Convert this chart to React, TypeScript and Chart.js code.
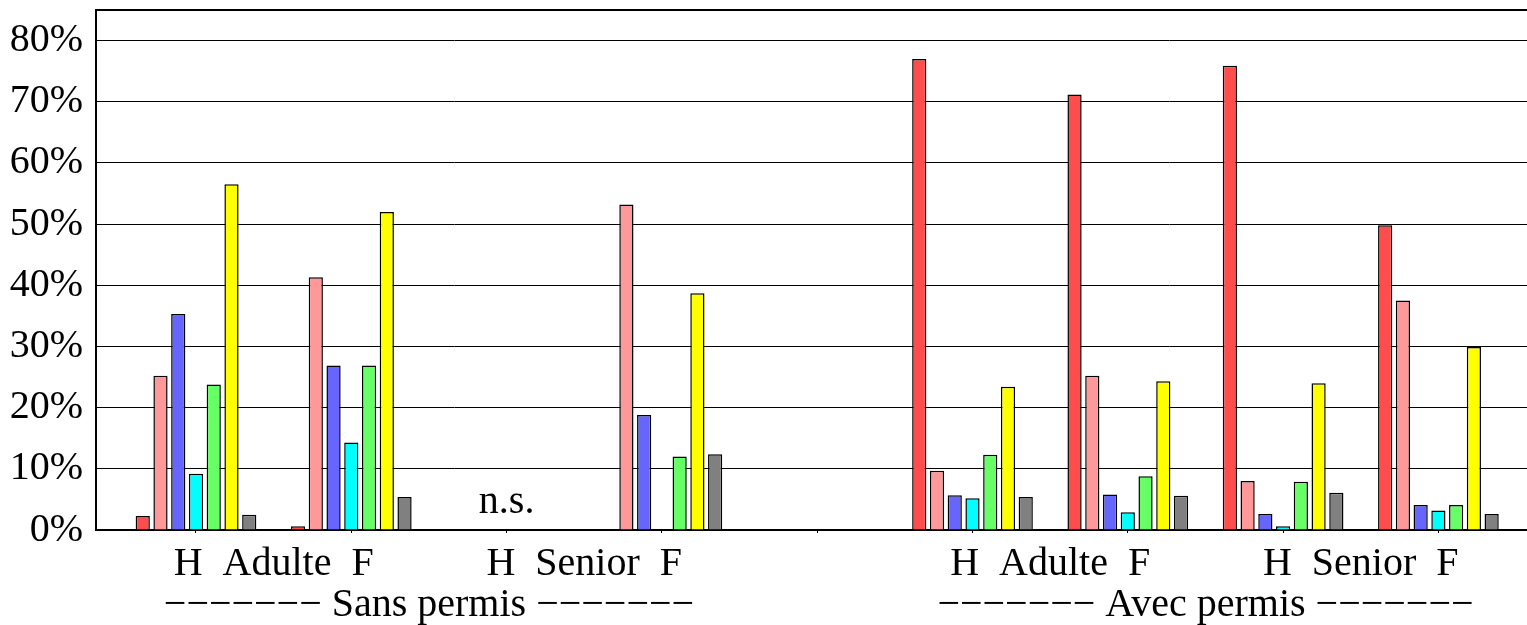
import React, { useEffect, useRef } from 'react';
import { Chart, registerables } from 'chart.js';

Chart.register(...registerables);

// Group positions on the x axis (5 is the empty gap between the two sections)
const groupPositions = [1, 2, 3, 4, 5, 6, 7, 8, 9];

// Series (7 bars per group)
const seriesNames = ['Série 1', 'Série 2', 'Série 3', 'Série 4', 'Série 5', 'Série 6', 'Série 7'];
const seriesColors = ['#ff4d4d', '#ff9999', '#6666ff', '#00ffff', '#66ff66', '#ffff00', '#808080'];

const serie1 = [2.3, 0.6, 0, 0, 0, 77.0, 71.2, 75.9, 49.8];
const serie2 = [25.2, 41.3, 0, 53.2, 0, 9.7, 25.2, 8.0, 37.5];
const serie3 = [35.3, 26.9, 0, 18.8, 0, 5.7, 5.8, 2.6, 4.1];
const serie4 = [9.2, 14.3, 0, 0, 0, 5.2, 2.9, 0.6, 3.2];
const serie5 = [23.8, 26.9, 0, 12.0, 0, 12.3, 8.8, 7.9, 4.1];
const serie6 = [56.5, 52.0, 0, 38.7, 0, 23.4, 24.3, 24.0, 29.9];
const serie7 = [2.5, 5.4, 0, 12.4, 0, 5.4, 5.6, 6.1, 2.6];
const seriesValues = [serie1, serie2, serie3, serie4, serie5, serie6, serie7];

// Y axis
const yMin = 0;
const yMax = 85;
const yStep = 10;

// X axis range
const xMin = 0.3561;
const xMax = 9.5705;

// Labels under the axis
const subLabelPositions = [1.5, 3.5, 6.5, 8.5];
const subLabels = ['H  Adulte  F', 'H  Senior  F', 'H  Adulte  F', 'H  Senior  F'];
const sectionPositions = [2.5, 7.5];
const sectionLabels = ['Sans permis', 'Avec permis'];
const dashRun = '−−−−−−−';

// "n.s." annotation
const nsText = 'n.s.';
const nsPosition = 3;
const nsValue = 2.8;

const FONT = '"Liberation Serif", "Times New Roman", serif';

export default function App() {
  const canvasRef = useRef<HTMLCanvasElement | null>(null);

  useEffect(() => {
    const canvas = canvasRef.current;
    if (!canvas) return;
    Chart.defaults.font.family = FONT;
    Chart.defaults.color = '#000';

    const textPlugin = {
      id: 'textLabels',
      afterDraw(chart: any) {
        const { ctx, scales, chartArea } = chart;
        const x = scales.x;
        ctx.save();
        ctx.font = `40px ${FONT}`;
        ctx.fillStyle = '#000';
        ctx.textAlign = 'center';
        ctx.textBaseline = 'alphabetic';
        // n.s.
        ctx.fillText(nsText, x.getPixelForValue(nsPosition), scales.y.getPixelForValue(nsValue));
        // sub labels (first line under the axis)
        const line1 = chartArea.bottom + 45;
        const line2 = chartArea.bottom + 86;
        subLabelPositions.forEach((p, i) => {
          ctx.fillText(subLabels[i], x.getPixelForValue(p), line1);
        });
        sectionPositions.forEach((p, i) => {
          ctx.fillText(`${dashRun} ${sectionLabels[i]} ${dashRun}`, x.getPixelForValue(p), line2);
        });
        ctx.restore();
      },
    };

    const chart = new Chart(canvas, {
      type: 'bar',
      data: {
        datasets: seriesValues.map((vals, i) => ({
          label: seriesNames[i],
          data: vals.map((v, j) => ({ x: groupPositions[j], y: v })),
          backgroundColor: seriesColors[i],
          borderColor: '#000',
          borderWidth: 1.5,
          barPercentage: 0.8,
          categoryPercentage: 0.8,
        })),
      },
      options: {
        animation: false,
        responsive: false,
        devicePixelRatio: 1,
        layout: { padding: { top: 10, left: 0, right: 0, bottom: 0 } },
        plugins: {
          legend: { display: false },
          tooltip: { enabled: false },
        },
        scales: {
          x: {
            type: 'linear',
            position: 'bottom',
            min: xMin,
            max: xMax,
            offset: false,
            ticks: { stepSize: 1, includeBounds: false, display: false },
            grid: { offset: false, drawOnChartArea: false, drawTicks: true, tickLength: 3, color: '#000', tickColor: '#000' },
            border: { display: true, color: '#000', width: 2 },
            afterFit: (s: any) => {
              s.height = 95;
              s.paddingLeft = 0;
              s.paddingRight = 0;
            },
          },
          xTop: {
            type: 'linear',
            position: 'top',
            min: xMin,
            max: xMax,
            offset: false,
            ticks: { display: false },
            grid: { display: false, drawTicks: false },
            border: { display: true, color: '#000', width: 2 },
            afterFit: (s: any) => {
              s.height = 0;
              s.paddingLeft = 0;
              s.paddingRight = 0;
            },
          },
          y: {
            type: 'linear',
            min: yMin,
            max: yMax,
            ticks: {
              stepSize: yStep,
              includeBounds: false,
              padding: 13,
              color: '#000',
              font: { size: 40, family: FONT },
              callback: (v: any) => `${v}%`,
            },
            grid: { color: '#000', lineWidth: 1, drawTicks: false },
            border: { display: true, color: '#000', width: 2 },
            afterFit: (s: any) => {
              s.width = 96;
              s.paddingTop = 0;
              s.paddingBottom = 0;
            },
          },
        },
      } as any,
      plugins: [textPlugin],
    });

    return () => chart.destroy();
  }, []);

  return (
    <div style={{ position: 'fixed', left: 0, top: 0, width: 1527, height: 625, background: '#fff' }}>
      <canvas ref={canvasRef} width={1527} height={625} />
    </div>
  );
}
